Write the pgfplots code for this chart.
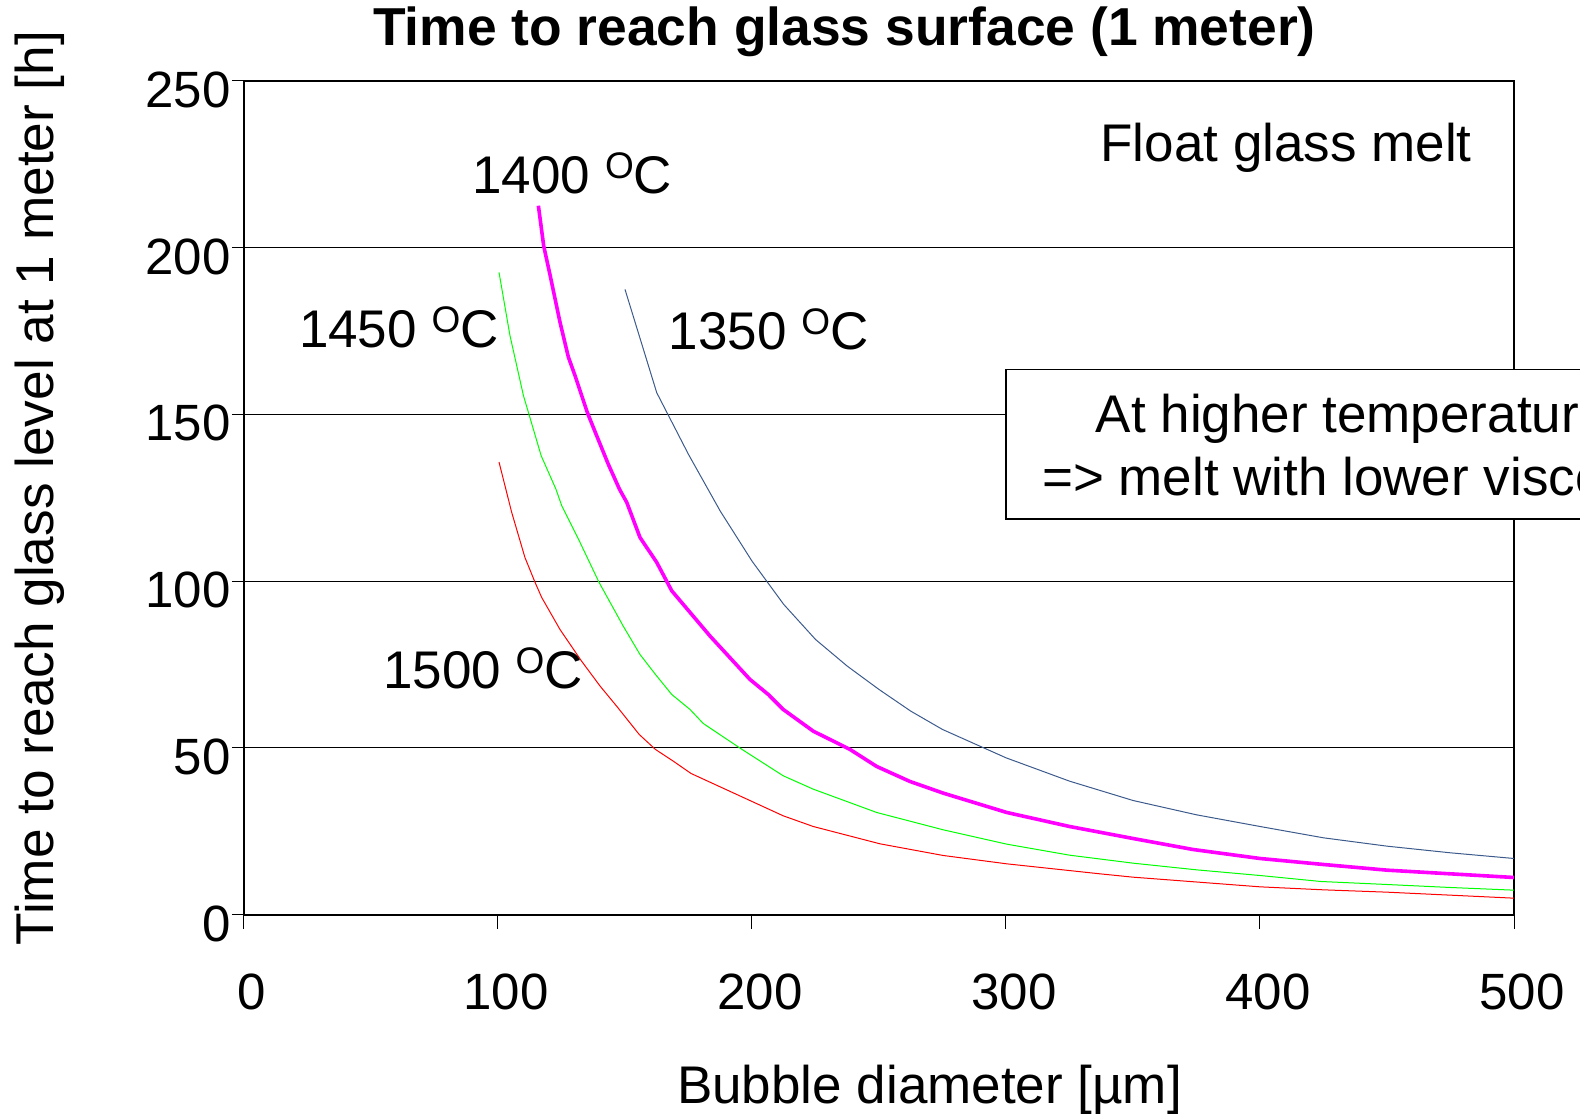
\documentclass[border=0pt]{standalone}
\usepackage{pgfplots}
\pgfplotsset{compat=1.18}
\usepackage{fontspec}
\setmainfont{Liberation Sans}
\usetikzlibrary{calc}
\definecolor{cblue}{RGB}{60,90,140}
\definecolor{cmag}{RGB}{255,0,255}
\definecolor{cgreen}{RGB}{0,255,0}
\definecolor{cred}{RGB}{255,0,0}
\newcommand{\degC}{\raisebox{7.5pt}{\fontsize{18.5}{20}\selectfont O}C}
\begin{document}
\begin{tikzpicture}
\begin{axis}[
  name=ax,
  scale only axis,
  width=635pt, height=416.75pt,
  xmin=0, xmax=500, ymin=0, ymax=250,
  xtick={0,100,...,500}, ytick={0,50,...,250},
  tick pos=left, tick align=outside,
  xtick style={black, line width=0.5pt, /pgfplots/major tick length=7pt},
  ytick style={black, line width=0.5pt, /pgfplots/major tick length=6pt},
  axis line style={line width=1pt},
  ymajorgrids, grid style={black, line width=0.5pt},
  /pgf/number format/assume math mode=true,
  ticklabel style={font=\fontsize{25.5}{28}\selectfont},
  xticklabel style={yshift=-22pt, xshift=4pt},
  yticklabel style={yshift=-4.5pt, xshift=1pt},
  clip=false,
]
\addplot[cblue, line width=0.5pt] coordinates {
(150,187.5) (162.5,156.5) (175,138) (187.5,121) (200,106) (212.5,93) (225,82.5)
(237.5,74.5) (250,67.5) (262.5,61) (275,55.5) (300,47) (325,40) (350,34.2)
(375,29.9) (400,26.4) (425,23) (450,20.5) (475,18.5) (500,16.8)};
\addplot[cmag, line width=1.8pt] coordinates {
(115.9,212.6) (118,200.5) (120.5,191.8) (124.4,177.7) (127.7,167.2) (130.3,161.7)
(135.2,150.5) (138.8,143.7) (143.4,135.1) (147.8,127.6) (150.7,123.6) (155.9,113.1)
(162.5,105.6) (168.4,97.1) (183.5,83.5) (199.2,70.5) (206.4,66) (212.3,61.5)
(224.1,55) (238.6,49.5) (249.1,44.4) (262.2,39.9) (275.3,36.4) (300.3,30.6)
(325,26.4) (350,22.8) (373.6,19.5) (400,16.8) (425,15) (450,13.3) (475,12.2) (500,11.1)};
\addplot[cgreen, line width=0.5pt] coordinates {
(100.4,192.6) (104.7,173.7) (110,155.7) (117,137.6) (122.8,127.6) (125.1,122.6)
(132.3,111.6) (139.8,99.6) (149.3,86.5) (155.9,78) (162,72) (168.4,66) (175.6,61.5)
(180.8,57.3) (195.9,49.6) (212.3,41.6) (224.1,37.6) (249.1,30.6) (275.3,25.4)
(300.3,21.1) (325,17.8) (350,15.4) (375,13.4) (400,11.7) (424,9.9) (450,9.0)
(475,8.1) (500,7.3)};
\addplot[cred, line width=0.5pt] coordinates {
(100.4,135.7) (105.4,120.6) (110.6,107.1) (114.6,99.6) (117.2,95.1) (124.4,85.5)
(132.9,76) (140.2,68.5) (146.7,62.5) (155.6,54) (162,49.5) (169,46) (176,42.3)
(212.3,29.6) (224.1,26.4) (250.4,21.2) (275.3,17.7) (300.3,15.2) (337,12.2)
(350,11.2) (400,8.3) (425,7.4) (450,6.7) (475,5.8) (500,4.9)};
% annotations
\draw[fill=white, line width=0.75pt] (axis cs:300,118.7) rectangle (axis cs:581,163.4);
\node[anchor=base, inner sep=0, font=\fontsize{26.5}{31.75}\selectfont] at (axis cs:441.5,144.7) {At higher temperatures};
\node[anchor=base, inner sep=0, font=\fontsize{26.5}{31.75}\selectfont] at (axis cs:440.6,125.6) {=> melt with lower viscosity};
\node[anchor=base east, inner sep=0, font=\fontsize{26.5}{31.75}\selectfont] at (axis cs:483.5,225.9) {Float glass melt};
\node[anchor=base west, inner sep=0, font=\fontsize{26.5}{31.75}\selectfont] at (axis cs:89.8,216.3) {1400 \degC};
\node[anchor=base west, inner sep=0, font=\fontsize{26.5}{31.75}\selectfont] at (axis cs:21.5,170.2) {1450 \degC};
\node[anchor=base west, inner sep=0, font=\fontsize{26.5}{31.75}\selectfont] at (axis cs:167.1,169.5) {1350 \degC};
\node[anchor=base west, inner sep=0, font=\fontsize{26.5}{31.75}\selectfont] at (axis cs:54.6,67.8) {1500 \degC};
\node[anchor=base, inner sep=0, font=\fontsize{26.7}{30}\selectfont\bfseries] at (axis cs:236.4,260.6) {Time to reach glass surface (1 meter)};
\node[anchor=base, inner sep=0, font=\fontsize{26.5}{31.75}\selectfont] at (axis cs:269.9,-56.7) {Bubble diameter [µm]};
\node[anchor=base, rotate=90, inner sep=0, font=\fontsize{26.6}{31.75}\selectfont] at (axis cs:-75,127.9) {Time to reach glass level at 1 meter [h]};
\end{axis}
\pgfresetboundingbox
\path[use as bounding box] ($(ax.south west)+(-122pt,-99.75pt)$) rectangle ($(ax.south west)+(668pt,457.25pt)$);
\end{tikzpicture}
\end{document}
